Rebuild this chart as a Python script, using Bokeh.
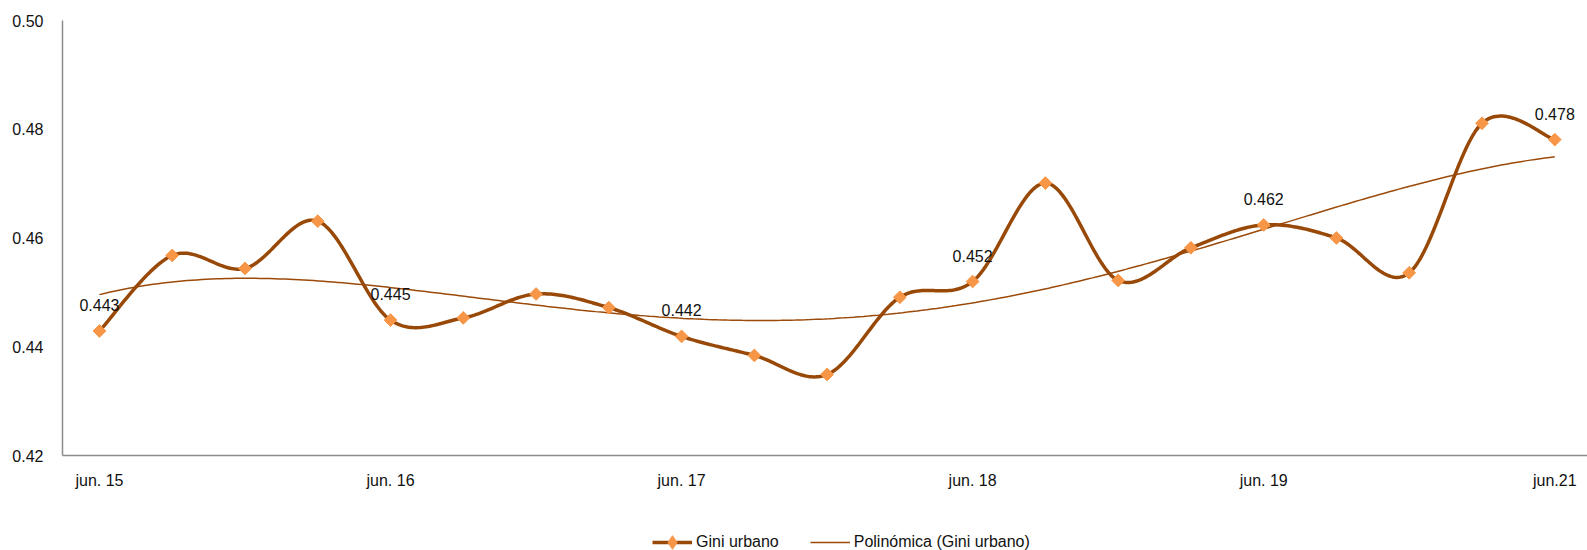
import numpy as np
from bokeh.plotting import figure
from bokeh.layouts import column
from bokeh.models import Range1d, FixedTicker, Legend, LegendItem, NumeralTickFormatter
from bokeh.embed import file_html
from bokeh.resources import INLINE
from bokeh.core.properties import value

# ---- data ----
gini_urbano = [0.4429, 0.4568, 0.4544, 0.4631, 0.4449, 0.4453, 0.4497, 0.4472,
               0.4419, 0.4384, 0.4349, 0.4491, 0.4520, 0.4701, 0.4522, 0.4582,
               0.4624, 0.4600, 0.4536, 0.4811, 0.4781]
x_tick_idx = [0, 4, 8, 12, 16, 20]
x_tick_labels = ["jun. 15", "jun. 16", "jun. 17", "jun. 18", "jun. 19", "jun.21"]
y_ticks = [0.42, 0.44, 0.46, 0.48, 0.50]
labeled_idx = [0, 4, 8, 12, 16, 20]
series_name = "Gini urbano"
trend_name = "Polinómica (Gini urbano)"
trend_order = 4

FONT = "Liberation Sans"
FS = "16px"
LINE_COLOR = "#984807"
MARKER_COLOR = "#F79646"
TREND_COLOR = "#9C4A0A"
AXIS_COLOR = "#8C8C8C"

xs = np.arange(len(gini_urbano), dtype=float)
ys = np.array(gini_urbano)


def smooth_curve(x, y, n=40):
    P = np.column_stack([x, y])
    out = [P[0]]
    t = np.linspace(0, 1, n)[1:, None]
    for i in range(len(P) - 1):
        p0 = P[i - 1] if i > 0 else P[i]
        p1 = P[i]
        p2 = P[i + 1]
        p3 = P[i + 2] if i + 2 < len(P) else P[i + 1]
        c1 = p1 + (p2 - p0) / 6.0
        c2 = p2 - (p3 - p1) / 6.0
        B = ((1 - t) ** 3) * p1 + 3 * t * (1 - t) ** 2 * c1 + 3 * t ** 2 * (1 - t) * c2 + t ** 3 * p2
        out.extend(B)
    out = np.array(out)
    return out[:, 0], out[:, 1]


sx, sy = smooth_curve(xs, ys)
coef = np.polyfit(xs + 1, ys, trend_order)
tx = np.linspace(xs[0], xs[-1], 300)
ty = np.polyval(coef, tx + 1)

p = figure(width=1587, height=500, output_backend="svg", toolbar_location=None,
           x_range=Range1d(-0.508, 20.45), y_range=Range1d(0.42, 0.50),
           min_border_left=62, min_border_right=0, min_border_top=20, min_border_bottom=45)
p.outline_line_color = None
p.xgrid.visible = False
p.ygrid.visible = False

r_trend = p.line(tx, ty, line_color=TREND_COLOR, line_width=1.5)
r_line = p.line(sx, sy, line_color=LINE_COLOR, line_width=3.5)
r_mark = p.scatter(xs, ys, marker="square", size=9, angle=np.pi / 4,
                   fill_color=MARKER_COLOR, line_color=MARKER_COLOR)

lx = [xs[i] for i in labeled_idx]
ly = [ys[i] for i in labeled_idx]
lt = ["%.3f" % ys[i] for i in labeled_idx]
p.text(lx, ly, text=lt, text_align="center", text_baseline="middle", y_offset=-26,
       text_font=value(FONT), text_font_size=FS, text_color="#111111")

# axes
p.xaxis.ticker = FixedTicker(ticks=x_tick_idx)
p.xaxis.major_label_overrides = {i: lab for i, lab in zip(x_tick_idx, x_tick_labels)}
p.yaxis.ticker = FixedTicker(ticks=y_ticks)
p.yaxis.formatter = NumeralTickFormatter(format="0.00")
for ax in (p.xaxis[0], p.yaxis[0]):
    ax.axis_line_color = AXIS_COLOR
    ax.axis_line_width = 1.5
    ax.major_tick_line_color = None
    ax.minor_tick_line_color = None
    ax.major_tick_out = 0
    ax.major_tick_in = 0
    ax.major_label_text_font = FONT
    ax.major_label_text_font_size = FS
    ax.major_label_text_color = "#111111"
p.xaxis.major_label_standoff = 16
p.yaxis.major_label_standoff = 19

# legend strip below the chart (frame aligned with the chart's frame)
lf = figure(width=1587, height=50, output_backend="svg", toolbar_location=None,
            x_range=Range1d(0, 1), y_range=Range1d(0, 1),
            x_axis_type=None, y_axis_type=None, min_border=0)
lf.outline_line_color = None
lf.grid.visible = False
# legend-only renderers: their single sample lies outside the visible range
d_line = lf.line([5, 6], [5, 6], line_color=LINE_COLOR, line_width=3.5)
d_mark = lf.scatter([5], [5], marker="diamond", size=14,
                    fill_color=MARKER_COLOR, line_color=MARKER_COLOR)
d_trend = lf.line([5, 6], [5, 6], line_color=TREND_COLOR, line_width=1.5)
legend = Legend(items=[LegendItem(label=series_name, renderers=[d_line, d_mark]),
                       LegendItem(label=trend_name, renderers=[d_trend])],
                orientation="horizontal", location=(590, -9),
                border_line_color=None, background_fill_alpha=0, padding=0, margin=0,
                spacing=31, glyph_width=40, glyph_height=34, label_height=16,
                label_standoff=4, label_text_font=FONT, label_text_font_size=FS,
                label_text_color="#111111")
lf.add_layout(legend, "center")

layout = column(p, lf, spacing=0)
open("out.html", "w").write(file_html(layout, INLINE))
